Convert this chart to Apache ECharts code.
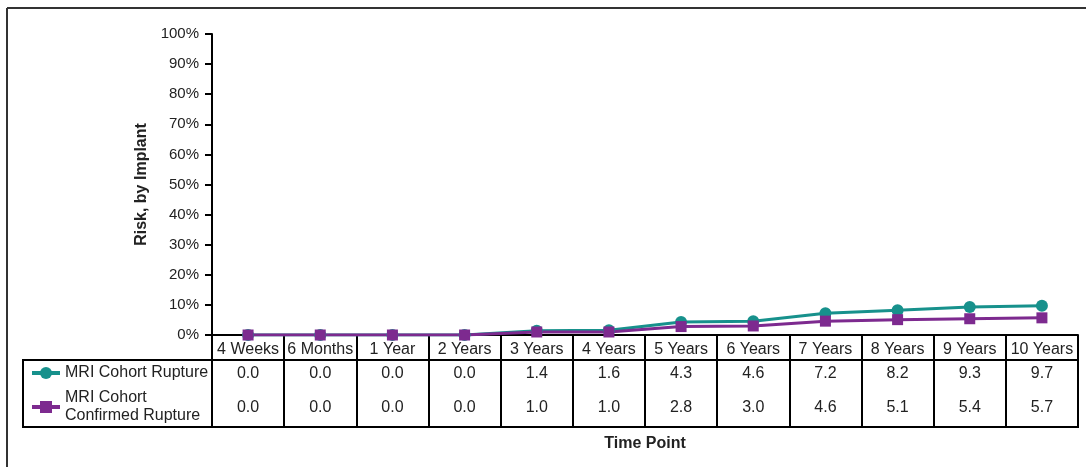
<!DOCTYPE html>
<html>
<head>
<meta charset="utf-8">
<script src="https://cdn.jsdelivr.net/npm/echarts@6/dist/echarts.min.js"></script>
<style>html,body{margin:0;padding:0;background:#fff;}#c{width:1086px;height:467px;}</style>
</head>
<body>
<div id="c"></div>
<script>
var categories = ['4 Weeks','6 Months','1 Year','2 Years','3 Years','4 Years','5 Years','6 Years','7 Years','8 Years','9 Years','10 Years'];
var ruptureName = 'MRI Cohort Rupture';
var confirmedName = 'MRI Cohort Confirmed Rupture';
var rupture = [0.0,0.0,0.0,0.0,1.4,1.6,4.3,4.6,7.2,8.2,9.3,9.7];
var confirmed = [0.0,0.0,0.0,0.0,1.0,1.0,2.8,3.0,4.6,5.1,5.4,5.7];
var yTicks = [0,10,20,30,40,50,60,70,80,90,100];

var FONT = "'Liberation Sans', Arial, sans-serif";
var TEAL = '#17918c';
var PURPLE = '#7d2a8f';

function fmt(v){ return v.toFixed(1); }

var chart = echarts.init(document.getElementById('c'));
var hiddenAxis = {
  type:'category', position:'bottom', gridIndex:0,
  axisLine:{show:false}, axisTick:{show:false}, splitLine:{show:false}
};
var legendCommon = {
  orient:'vertical', selectedMode:false, padding:0,
  itemWidth:28, itemHeight:15, itemGap:0,
  lineStyle:{width:4}
};
chart.setOption({
  backgroundColor:'#fff',
  animation:false,
  textStyle:{fontFamily:FONT},
  grid:{left:212, right:8, top:34, bottom:132},
  legend:[
    Object.assign({}, legendCommon, {data:[ruptureName], left:30, top:365,
     textStyle:{fontFamily:FONT, fontSize:16, color:'#222'}}),
    Object.assign({}, legendCommon, {data:[confirmedName], left:30, top:389,
     formatter:function(n){ return 'MRI Cohort\nConfirmed Rupture'; },
     textStyle:{fontFamily:FONT, fontSize:16, color:'#222', lineHeight:18}})
  ],
  xAxis:[
    {type:'category', data:categories, boundaryGap:true, position:'bottom',
     axisLine:{lineStyle:{color:'#000', width:2}},
     axisTick:{show:true, length:92, inside:false, lineStyle:{color:'#000', width:2}},
     axisLabel:{margin:7, fontSize:16, color:'#222', fontFamily:FONT, interval:0},
     name:'Time Point', nameLocation:'middle', nameGap:101,
     nameTextStyle:{fontFamily:FONT, fontSize:16, fontWeight:'bold', color:'#222'}},
    Object.assign({}, hiddenAxis, {data:rupture.map(fmt),
     axisLabel:{margin:31, fontSize:16, color:'#222', fontFamily:FONT, interval:0}}),
    Object.assign({}, hiddenAxis, {data:confirmed.map(fmt),
     axisLabel:{margin:65, fontSize:16, color:'#222', fontFamily:FONT, interval:0}})
  ],
  yAxis:{
    type:'value', min:yTicks[0], max:yTicks[yTicks.length-1], interval:10,
    axisLine:{show:true, lineStyle:{color:'#000', width:2}},
    axisTick:{show:true, length:7, lineStyle:{color:'#000', width:2}},
    axisLabel:{margin:13, fontSize:15, color:'#222', fontFamily:FONT, formatter:'{value}%'},
    splitLine:{show:false},
    name:'Risk, by Implant', nameLocation:'middle', nameGap:60,
    nameTextStyle:{fontFamily:FONT, fontSize:16, fontWeight:'bold', color:'#222'}
  },
  series:[
    {name:ruptureName, type:'line', data:rupture, symbol:'circle', symbolSize:12,
     itemStyle:{color:TEAL}, lineStyle:{color:TEAL, width:3}},
    {name:confirmedName, type:'line', data:confirmed, symbol:'rect', symbolSize:11,
     itemStyle:{color:PURPLE}, lineStyle:{color:PURPLE, width:3}}
  ],
  graphic:[
    {type:'line', shape:{x1:7,y1:8,x2:1086,y2:8}, style:{stroke:'#333', lineWidth:2}},
    {type:'line', shape:{x1:7,y1:8,x2:7,y2:467}, style:{stroke:'#333', lineWidth:2}},
    {type:'line', shape:{x1:23,y1:360,x2:1079,y2:360}, style:{stroke:'#000', lineWidth:2}},
    {type:'line', shape:{x1:23,y1:427,x2:1079,y2:427}, style:{stroke:'#000', lineWidth:2}},
    {type:'line', shape:{x1:23,y1:359,x2:23,y2:428}, style:{stroke:'#000', lineWidth:2}}
  ]
});
</script>
</body>
</html>
